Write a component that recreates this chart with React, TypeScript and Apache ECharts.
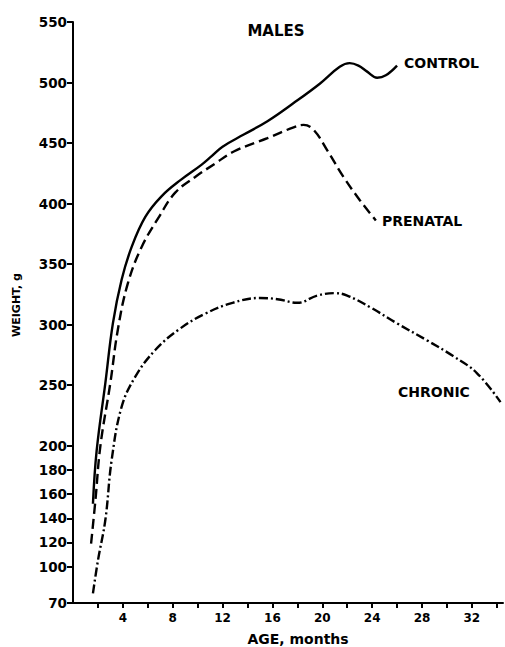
import React, { useEffect, useRef } from "react";
import * as echarts from "echarts";

const controlMonths = [1.6, 1.9, 2.6, 3.2, 3.9, 4.7, 5.8, 7.1, 8.7, 10.3, 11.1, 12.0, 13.7, 15.6, 17.7, 19.8, 21.4, 22.2, 22.9, 23.6, 24.4, 25.1, 26.0];
const controlWeights = [152, 196, 252, 301, 337, 364, 389, 406, 420, 432, 439, 447, 457, 468, 483, 499, 513, 516, 514, 509, 504, 506, 514];

const prenatalMonths = [1.45, 1.8, 2.2, 3.0, 3.6, 4.4, 5.5, 6.9, 8.2, 9.8, 11.4, 12.9, 15.6, 17.7, 18.5, 19.3, 20.4, 21.7, 23.0, 24.3];
const prenatalWeights = [119, 155, 200, 252, 296, 334, 364, 389, 409, 422, 433, 443, 454, 463, 465, 461, 444, 422, 403, 386];

const chronicMonths = [1.6, 2.0, 2.6, 3.1, 3.9, 5.0, 6.6, 8.5, 10.6, 12.8, 15.0, 16.4, 18.0, 19.6, 21.0, 22.0, 23.9, 26.0, 28.4, 30.5, 32.4, 34.3];
const chronicWeights = [78, 105, 139, 188, 232, 257, 279, 296, 309, 318, 322, 321, 318, 324, 326, 324, 314, 301, 287, 274, 260, 236];

const yTickValues = [70, 100, 120, 140, 160, 180, 200, 250, 300, 350, 400, 450, 500, 550];
const xTickValues = [2, 4, 6, 8, 10, 12, 14, 16, 18, 20, 22, 24, 26, 28, 30, 32, 34];
const xLabelValues = [4, 8, 12, 16, 20, 24, 28, 32];

const FONT = "'DejaVu Sans', Arial, sans-serif";

function pairs(xs: number[], ys: number[]) {
  return xs.map((x, i) => [x, ys[i]]);
}

export default function App() {
  const ref = useRef<HTMLDivElement>(null);
  useEffect(() => {
    if (!ref.current) return;
    const chart = echarts.init(ref.current, undefined, { renderer: "svg" });
    const lineBase = { type: "line", showSymbol: false, smooth: 0.4, silent: true };
    chart.setOption({
      animation: false,
      backgroundColor: "#ffffff",
      grid: { left: 73, top: 22, width: 430, height: 581 },
      xAxis: {
        type: "value",
        min: 0,
        max: 34.5,
        axisLine: { show: true, lineStyle: { color: "#000", width: 2 } },
        axisTick: {
          show: true,
          customValues: xTickValues,
          length: 5,
          inside: false,
          lineStyle: { color: "#000", width: 2 },
        },
        axisLabel: {
          customValues: xLabelValues,
          color: "#000",
          fontFamily: FONT,
          fontWeight: "bold",
          fontSize: 12,
          margin: 9,
        },
        splitLine: { show: false },
      },
      yAxis: {
        type: "value",
        min: 70,
        max: 550,
        axisLine: { show: true, lineStyle: { color: "#000", width: 2 } },
        axisTick: {
          show: true,
          customValues: yTickValues,
          length: 6,
          lineStyle: { color: "#000", width: 2 },
        },
        axisLabel: {
          customValues: yTickValues,
          color: "#000",
          fontFamily: FONT,
          fontWeight: "bold",
          fontSize: 13.5,
          margin: 6,
        },
        splitLine: { show: false },
      },
      graphic: [
        {
          type: "text",
          x: 276,
          y: 31,
          style: { text: "MALES", fill: "#000", font: `bold 15px ${FONT}`, textAlign: "center", textVerticalAlign: "middle" },
        },
        {
          type: "text",
          x: 404,
          y: 63,
          style: { text: "CONTROL", fill: "#000", font: `bold 14px ${FONT}`, textAlign: "left", textVerticalAlign: "middle" },
        },
        {
          type: "text",
          x: 382,
          y: 221,
          style: { text: "PRENATAL", fill: "#000", font: `bold 14px ${FONT}`, textAlign: "left", textVerticalAlign: "middle" },
        },
        {
          type: "text",
          x: 398,
          y: 392,
          style: { text: "CHRONIC", fill: "#000", font: `bold 14px ${FONT}`, textAlign: "left", textVerticalAlign: "middle" },
        },
        {
          type: "text",
          x: 298,
          y: 639,
          style: { text: "AGE, months", fill: "#000", font: `bold 14px ${FONT}`, textAlign: "center", textVerticalAlign: "middle" },
        },
        {
          type: "text",
          x: 16,
          y: 305,
          rotation: Math.PI / 2,
          style: { text: "WEIGHT, g", fill: "#000", font: `bold 11px ${FONT}`, textAlign: "center", textVerticalAlign: "middle" },
        },
      ],
      series: [
        {
          ...lineBase,
          name: "CONTROL",
          data: pairs(controlMonths, controlWeights),
          lineStyle: { color: "#000", width: 2.4, type: "solid" },
        },
        {
          ...lineBase,
          name: "PRENATAL",
          data: pairs(prenatalMonths, prenatalWeights),
          lineStyle: { color: "#000", width: 2.4, type: [10, 5] },
        },
        {
          ...lineBase,
          name: "CHRONIC",
          data: pairs(chronicMonths, chronicWeights),
          lineStyle: { color: "#000", width: 2.4, type: [9, 3, 2, 3] },
        },
      ],
    });
    return () => chart.dispose();
  }, []);
  return (
    <div
      ref={ref}
      style={{ position: "fixed", left: 0, top: 0, width: 505, height: 647, background: "#fff" }}
    />
  );
}
